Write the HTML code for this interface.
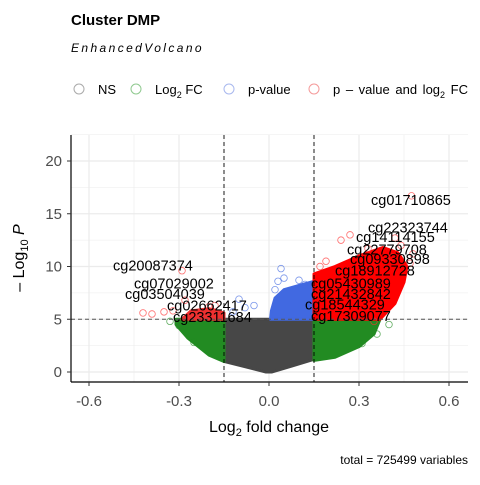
<!DOCTYPE html>
<html><head><meta charset="utf-8"><style>
body{margin:0;background:#fff;}
svg{font-family:"Liberation Sans",Arial,sans-serif;}
</style></head><body>
<svg id="chart" width="480" height="480" viewBox="0 0 480 480" xmlns="http://www.w3.org/2000/svg">
<text x="71" y="25" font-size="15" font-weight="bold" fill="#000">Cluster DMP</text>
<text x="71" y="52" font-size="12" font-style="italic" fill="#000" letter-spacing="2.4">EnhancedVolcano</text>
<g font-size="13">
 <g><circle cx="79" cy="89" r="5" fill="none" stroke="#aaa"/><text x="98" y="94">NS</text></g>
 <g><circle cx="136" cy="89" r="5" fill="none" stroke="#8fc98f"/><text x="155" y="94">Log<tspan font-size="9" dy="4">2</tspan><tspan dy="-4"> FC</tspan></text></g>
 <g><circle cx="229" cy="89" r="5" fill="none" stroke="#a8b8ee"/><text x="248" y="94">p-value</text></g>
 <g><circle cx="314" cy="89" r="5" fill="none" stroke="#f59a9a"/><text x="333" y="94" word-spacing="2">p – value and log<tspan font-size="9" dy="4">2</tspan><tspan dy="-4"> FC</tspan></text></g>
</g>
<g id="grid"></g>
<g id="marks"></g>
<g id="refs"></g>
<g id="labels" font-size="14.5" fill="#000"></g>
<g id="axes"></g>
<text x="269" y="432" font-size="16" text-anchor="middle">Log<tspan font-size="11" dy="4">2</tspan><tspan dy="-4"> fold change</tspan></text>
<text transform="translate(24,258) rotate(-90)" font-size="16" text-anchor="middle">– Log<tspan font-size="11" dy="4">10</tspan><tspan dy="-4" font-style="italic"> P</tspan></text>
<text x="468" y="464" font-size="12" text-anchor="end">total = 725499 variables</text>
</svg>
<script>
const xTicks=[-0.6,-0.3,0,0.3,0.6];
const xTickLabels=["-0.6","-0.3","0.0","0.3","0.6"];
const yTicks=[0,5,10,15,20];
const yTickLabels=["0","5","10","15","20"];
const fcCut=0.15, pCut=5;
const nsRegion=[[-0.15,5],[0.15,5],[0.15,1.2],[0.08,0.6],[0.01,0],[-0.01,0],[-0.08,0.5],[-0.15,1.0]];
const greenLeft=[[-0.31,5],[-0.15,5],[-0.15,1.0],[-0.2,1.6],[-0.27,3.2],[-0.31,4.5]];
const greenRight=[[0.15,5],[0.37,5],[0.35,3.6],[0.3,2.4],[0.22,1.4],[0.15,1.1]];
const blueRight=[[0.005,5],[0.15,5],[0.15,8.6],[0.1,8.2],[0.05,7.8],[0.02,7],[0.008,5.8]];
const redRight=[[0.15,5],[0.37,5],[0.42,6.5],[0.45,8.5],[0.46,10],[0.43,11.3],[0.38,11.8],[0.3,11],[0.22,10],[0.15,9.3]];
const redLeft=[[-0.29,5],[-0.15,5],[-0.15,5.6],[-0.2,6],[-0.26,5.8]];
const redPts=[[0.475,16.7],[0.27,13],[0.24,12.5],[0.42,12.7],[0.44,12],[0.33,11.7],[0.19,10.5],[0.17,10],[0.47,10.3],[0.41,10.9],[-0.29,9.6],[-0.28,6.8],[-0.42,5.6],[-0.39,5.5],[-0.35,5.7],[-0.32,5.8],[-0.18,6.3],[-0.2,6.2],[0.35,4.8],[0.48,11.2]];
const bluePts=[[0.04,9.8],[0.05,8.9],[0.03,8.6],[0.1,8.7],[0.12,8.3],[-0.1,6.9],[-0.05,6.3],[-0.08,6.1],[-0.12,5.7],[0.02,7.8]];
const greenPts=[[-0.3,4.4],[-0.33,4.8],[-0.25,2.8],[0.4,4.5],[0.36,3.6],[0.31,2.7]];
const labelNames=["cg01710865","cg22323744","cg14114155","cg22779708","cg09330898","cg18912728","cg05430989","cg21432842","cg18544329","cg17309077","cg20087374","cg07029002","cg03504039","cg02662417","cg23311684"];
const labelX=[0.34,0.33,0.29,0.26,0.27,0.22,0.14,0.14,0.12,0.14,-0.52,-0.45,-0.48,-0.34,-0.32];
const labelY=[16.3,13.7,12.8,11.6,10.7,9.6,8.4,7.4,6.4,5.3,10.1,8.4,7.4,6.3,5.2];

const X=v=>269+v*300, Y=v=>372-v*10.55;
const NS="http://www.w3.org/2000/svg";
function mk(p,t,a){const e=document.createElementNS(NS,t);for(const k in a)e.setAttribute(k,a[k]);p.appendChild(e);return e;}
const grid=document.getElementById('grid'),marks=document.getElementById('marks'),refs=document.getElementById('refs'),labels=document.getElementById('labels'),axes=document.getElementById('axes');
for(let v=-0.6;v<=0.61;v+=0.15){const g=mk(grid,'line',{x1:X(v),x2:X(v),y1:135,y2:382,stroke:'#ebebeb','stroke-width':Math.abs((v/0.3)-Math.round(v/0.3))<0.01?1.2:0.6});
}
for(let v=0;v<=22.5;v+=2.5){const g=mk(grid,'line',{x1:71,x2:468,y1:Y(v),y2:Y(v),stroke:'#ebebeb','stroke-width':(v%5===0)?1.2:0.6});
}
function region(pts,col,name){const p=mk(marks,'polygon',{points:pts.map(q=>X(q[0])+','+Y(q[1])).join(' '),fill:col,stroke:col,'stroke-width':3,'stroke-linejoin':'round'});
}
region(nsRegion,'#474747','ns-cloud');
region(greenLeft,'#228b22','log2fc-cloud-left');
region(greenRight,'#228b22','log2fc-cloud-right');
region(blueRight,'#4169e1','pvalue-cloud-right');
region(redRight,'#ff0000','significant-cloud-right');
region(redLeft,'#f03030','significant-cloud-left');
function pts(arr,col,name){arr.forEach(q=>{const c=mk(marks,'circle',{cx:X(q[0]),cy:Y(q[1]),r:3.3,fill:'none',stroke:col,'stroke-opacity':0.7,'stroke-width':0.8});
});}
pts(redPts,'#ff3030','significant-point');pts(bluePts,'#4169e1','pvalue-point');pts(greenPts,'#228b22','log2fc-point');
[[X(-fcCut),X(-fcCut),135,382],[X(fcCut),X(fcCut),135,382],[71,468,Y(pCut),Y(pCut)]].forEach((l,i)=>{const e=mk(refs,'line',{x1:l[0],x2:l[1],y1:l[2],y2:l[3],stroke:i<2?'#000':'#555','stroke-width':0.9,'stroke-dasharray':'4,3'});
});
labelNames.forEach((n,i)=>{const t=mk(labels,'text',{x:X(labelX[i]),y:Y(labelY[i])+5});t.textContent=n;
});
let a=mk(axes,'line',{x1:71,x2:71,y1:135,y2:382,stroke:'#000','stroke-width':1.2});
a=mk(axes,'line',{x1:71,x2:468,y1:382,y2:382,stroke:'#000','stroke-width':1.2});
xTicks.forEach((v,i)=>{const t=mk(axes,'line',{x1:X(v),x2:X(v),y1:382,y2:386,stroke:'#333'});
const l=mk(axes,'text',{x:X(v),y:406,'font-size':15,'text-anchor':'middle',fill:'#4d4d4d'});l.textContent=xTickLabels[i];});
yTicks.forEach((v,i)=>{const t=mk(axes,'line',{x1:67,x2:71,y1:Y(v),y2:Y(v),stroke:'#333'});
const l=mk(axes,'text',{x:62,y:Y(v)+5,'font-size':15,'text-anchor':'end',fill:'#4d4d4d'});l.textContent=yTickLabels[i];});
</script>
</body></html>
